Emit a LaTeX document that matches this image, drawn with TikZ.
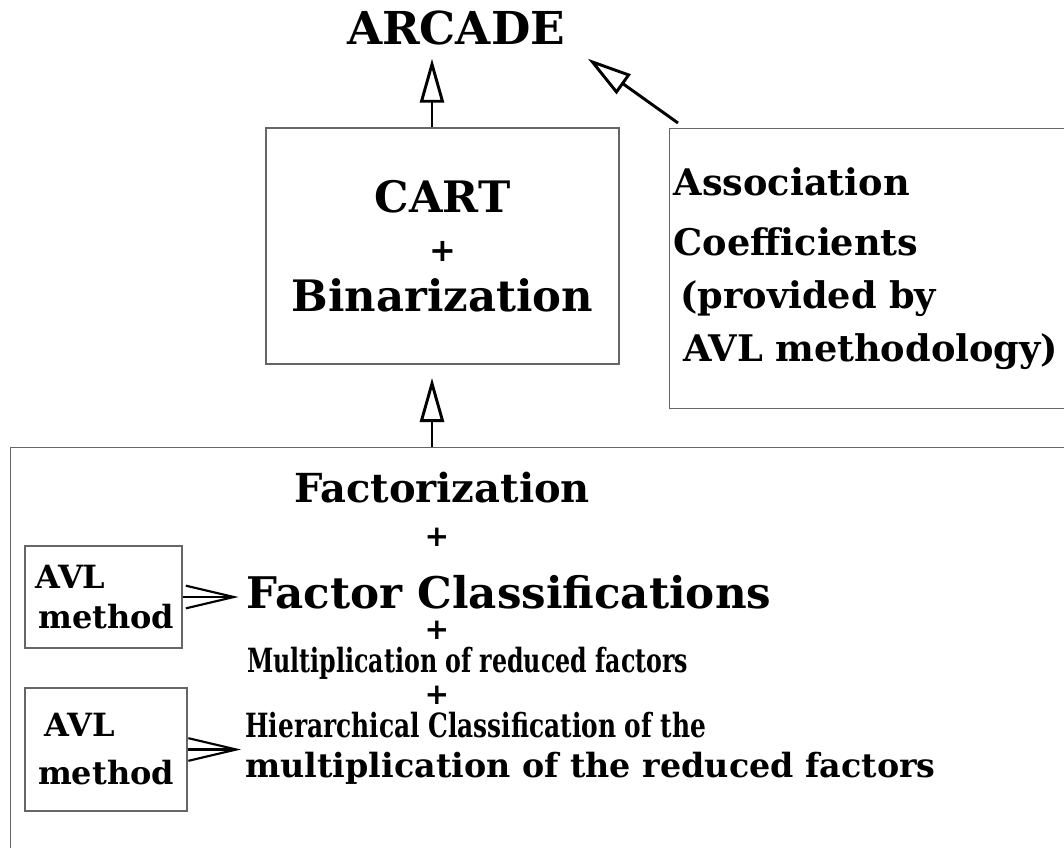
\documentclass[tikz,border=0pt]{standalone}
\usepackage{fontspec}
\setmainfont{DejaVu Serif}
\setsansfont{DejaVu Sans}
\usetikzlibrary{arrows.meta,positioning}

\tikzset{
  box/.style={draw=black!60, line width=1pt, rectangle, inner sep=0pt},
  txt/.style={inner sep=0pt, font=\fontsize{32.5}{37}\selectfont\bfseries},
  midtxt/.style={inner sep=0pt, font=\fontsize{25}{30}\selectfont\bfseries},
  avltxt/.style={font=\fontsize{24}{30}\selectfont\bfseries},
  plus/.style={inner sep=0pt, font=\fontsize{22}{24}\selectfont\sffamily\bfseries},
  uparrow/.style={line width=2.2pt, -{Triangle[open,length=33pt,width=18pt]}},
  barb/.style={line width=1.6pt, -{Straight Barb[length=36pt,width=17pt]}},
}

\begin{document}
\begin{tikzpicture}[x=0.75pt, y=-0.75pt]
\useasboundingbox (0,0) rectangle (1064,847);
\clip (0,0) rectangle (1064,847);

\coordinate (axis) at (432,0);

% top part
\node[txt, font=\fontsize{34}{37}\selectfont\bfseries, inner sep=10pt] (arcade) at (456,28) {ARCADE};
\node[box, txt, minimum width=264.75pt, minimum height=177pt, align=center] (cart) at (442.5,246)
  {CART\\{\fontsize{24}{24}\selectfont\sffamily\bfseries +}\\Binarization};
\node[box, anchor=north west, minimum height=210pt, text width=360pt, inner xsep=3pt, align=left,
  font=\fontsize{27.5}{40}\selectfont\bfseries] (assoc) at (669,128)
  {Association\\[5pt]Coefficients\\\hspace*{5pt}(provided by\\\hspace*{7pt}AVL methodology)};

% lower frame
\node[box, anchor=north west, minimum width=900pt, minimum height=400pt] (proc) at (10,447) {};

\node[txt, font=\fontsize{30}{37}\selectfont\bfseries] (fact) at (442,488) {Factorization};
\node[plus] (p1) at (437,537) {+};
\node[txt, font=\fontsize{32.7}{40}\selectfont\bfseries] (fc) at (509,592) {Factor Classifications};
\node[plus] (p2) at (437,630) {+};
\node[midtxt, anchor=base west] (mult) at (247,672) {\resizebox{330.75pt}{\height}{Multiplication of reduced factors}};
\node[plus] (p3) at (437,695) {+};
\node[midtxt, anchor=base west] (hier) at (245,737) {\resizebox{345.75pt}{\height}{Hierarchical Classification of the}};
\node[midtxt, anchor=base west] (hier2) at (245,777) {multiplication of the reduced factors};

\node[box, avltxt, minimum width=117.75pt, minimum height=76.5pt, align=left] (avl1) at (103.5,597) {\hspace*{2pt}AVL\\\hspace*{4pt}method};
\node[box, avltxt, minimum width=121.5pt, minimum height=92.25pt, align=left] (avl2) at (106,749.5) {\hspace*{5pt}AVL\\[6pt]method};

% arrows
\draw[uparrow, shorten >=10pt] (proc.north -| axis) -- (cart.south -| axis);
\draw[uparrow] (cart.north -| axis) -- (axis |- arcade.south);
\draw[uparrow] ([shift={(9,-5)}]assoc.north west) -- ([xshift=7pt]arcade.south east);
\draw[barb, shorten >=6pt] (avl1.east) -- (avl1.east -| fc.west);
\draw[barb, shorten >=3pt] (avl2.east) -- (avl2.east -| hier2.west);
\end{tikzpicture}
\end{document}
